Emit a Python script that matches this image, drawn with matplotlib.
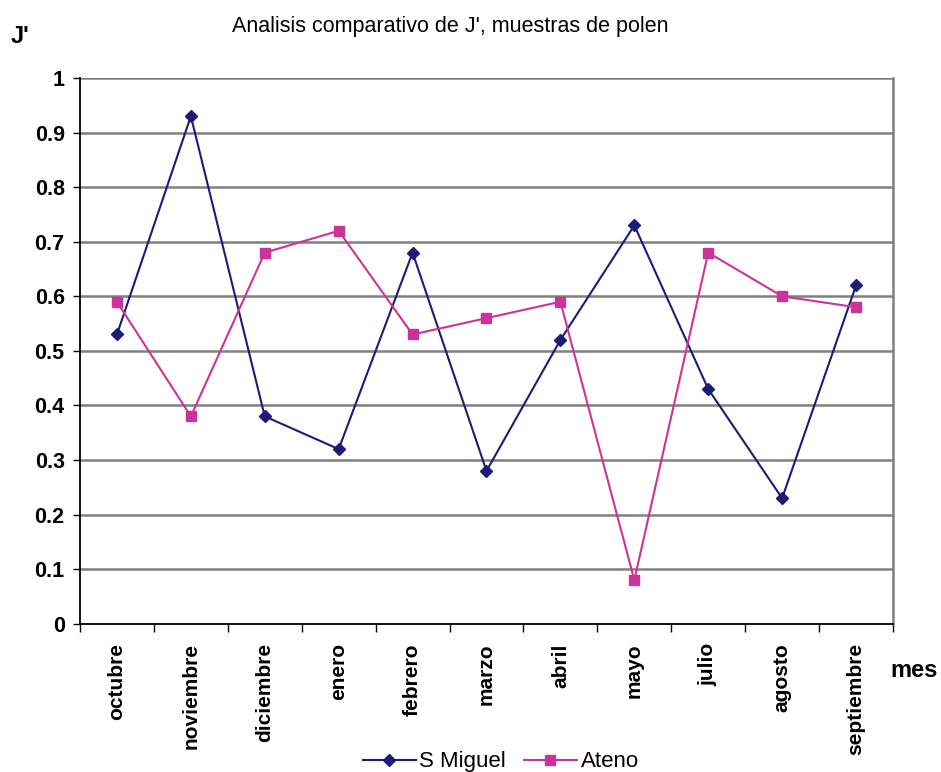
import numpy as np
import matplotlib
matplotlib.use("Agg")
import matplotlib.pyplot as plt
from matplotlib.lines import Line2D

plt.rcParams["font.family"] = ["Liberation Sans", "DejaVu Sans"]

meses = ["octubre", "noviembre", "diciembre", "enero", "febrero", "marzo",
         "abril", "mayo", "julio", "agosto", "septiembre"]
s_miguel = [0.53, 0.93, 0.38, 0.32, 0.68, 0.28, 0.52, 0.73, 0.43, 0.23, 0.62]
ateno = [0.59, 0.38, 0.68, 0.72, 0.53, 0.56, 0.59, 0.08, 0.68, 0.60, 0.58]

COLOR_SM = "#1c1c78"
COLOR_AT = "#cc3399"
GRID = "#808080"

fig = plt.figure(figsize=(9.41, 7.72), dpi=100)
ax = fig.add_axes([0.085, 0.192, 0.864, 0.707])

x = np.arange(len(meses))
ax.plot(x, s_miguel, color=COLOR_SM, lw=1.5, marker="D", ms=6.5,
        label="S Miguel", zorder=3)
ax.plot(x, ateno, color=COLOR_AT, lw=1.5, marker="s", ms=6.5,
        label="Ateno", zorder=3)

ax.set_xlim(-0.5, len(meses) - 0.5)
ax.set_ylim(0, 1)
ax.set_yticks(np.arange(0, 1.01, 0.1))
ax.set_yticklabels(["0"] + [f"{v:.1f}" for v in np.arange(0.1, 0.95, 0.1)] + ["1"],
                   fontweight="bold")
for v in np.arange(0.1, 1.01, 0.1):
    ax.axhline(v, color=GRID, lw=1.8, zorder=1)

# category ticks sit between the months
ax.set_xticks(np.arange(-0.5, len(meses), 1.0))
ax.set_xticklabels([])
ax.set_xticks(x, minor=True)
ax.set_xticklabels(meses, minor=True, rotation=90, fontsize=15,
                   fontweight="bold", va="top")
ax.tick_params(axis="x", which="minor", length=0, pad=14)
ax.tick_params(axis="x", which="major", length=6, width=1, direction="out")
ax.tick_params(axis="y", length=5, width=1, direction="out", labelsize=15.5,
               pad=6)

ax.spines["top"].set_visible(False)
ax.spines["right"].set_color(GRID)
ax.spines["right"].set_linewidth(1.8)
ax.spines["left"].set_linewidth(1.3)
ax.spines["bottom"].set_linewidth(1.3)

fig.text(0.479, 0.966, "Analisis comparativo de J', muestras de polen",
         ha="center", va="center", fontsize=15.5)
fig.text(0.011, 0.953, "J'", ha="left", va="center", fontsize=17,
         fontweight="bold")
fig.text(0.946, 0.132, "mes", ha="left", va="center", fontsize=17,
         fontweight="bold")

handles = [
    Line2D([], [], color=COLOR_SM, lw=1.5, marker="D", ms=6.5),
    Line2D([], [], color=COLOR_AT, lw=1.5, marker="s", ms=6.5),
]
fig.legend(handles, ["S Miguel", "Ateno"], loc="center",
           bbox_to_anchor=(0.532, 0.013), ncol=2, frameon=False, fontsize=16,
           handlelength=2.4, columnspacing=0.8, handletextpad=0.15)

fig.savefig("out.png", dpi=100, facecolor="white")
